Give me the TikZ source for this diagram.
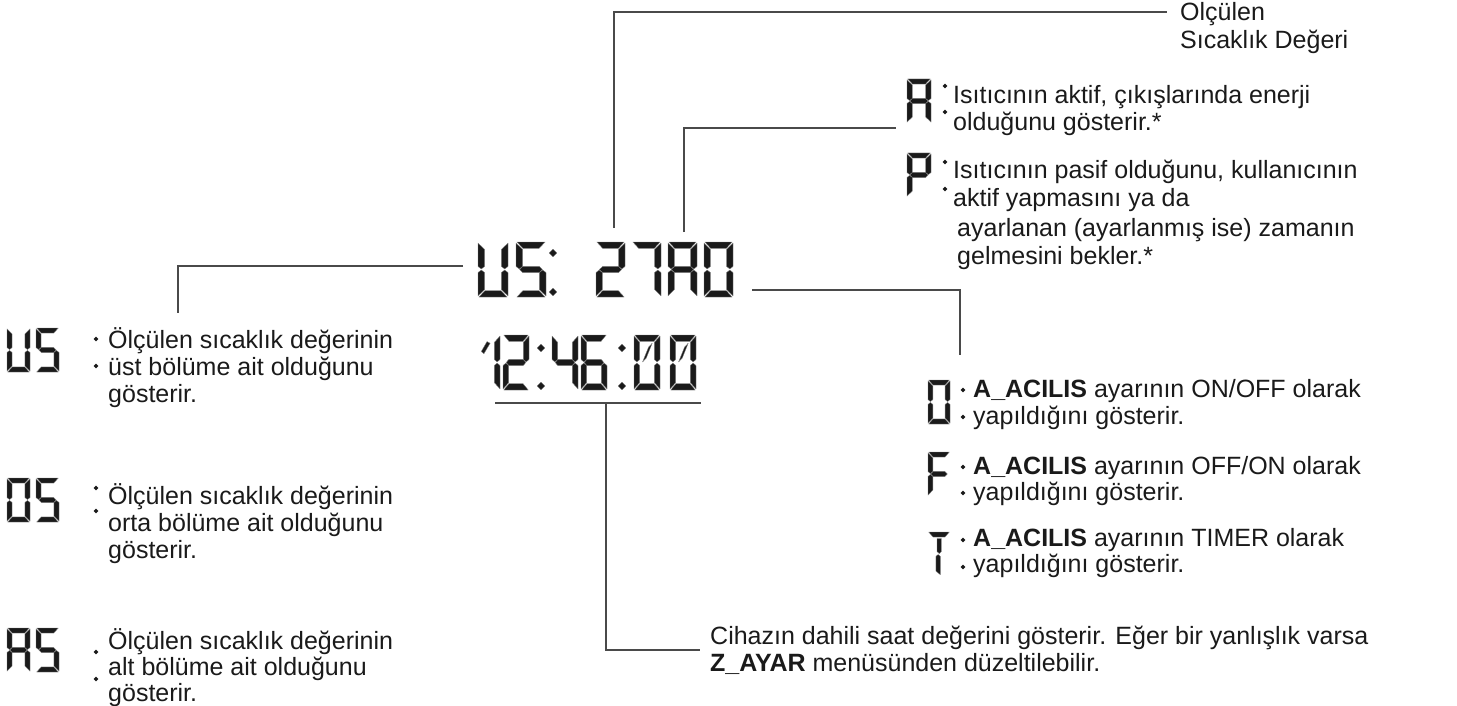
\documentclass[tikz,border=0pt]{standalone}
\usepackage{fontspec}
\setmainfont{Liberation Sans}
\definecolor{ink}{HTML}{1A1A1A}
\definecolor{wirec}{HTML}{4A4A4A}
\definecolor{segedge}{HTML}{808080}
% seven-segment pieces in a unit box (u right, v down)
\newcommand\lsega{\filldraw[lcdseg] (0.03,0) -- (0.97,0) -- (0.77,0.115) -- (0.23,0.115) -- cycle;}
\newcommand\lsegd{\filldraw[lcdseg] (0.03,1) -- (0.97,1) -- (0.77,0.885) -- (0.23,0.885) -- cycle;}
\newcommand\lsegg{\filldraw[lcdseg] (0.12,0.5) -- (0.23,0.4425) -- (0.77,0.4425) -- (0.88,0.5) -- (0.77,0.5575) -- (0.23,0.5575) -- cycle;}
\newcommand\lsegf{\filldraw[lcdseg] (0,0.02) -- (0.22,0.135) -- (0.22,0.445) -- (0.11,0.49) -- (0,0.445) -- cycle;}
\newcommand\lsege{\filldraw[lcdseg] (0,0.98) -- (0.22,0.865) -- (0.22,0.555) -- (0.11,0.51) -- (0,0.555) -- cycle;}
\newcommand\lsegb{\filldraw[lcdseg] (1,0.02) -- (0.78,0.135) -- (0.78,0.445) -- (0.89,0.49) -- (1,0.445) -- cycle;}
\newcommand\lsegc{\filldraw[lcdseg] (1,0.98) -- (0.78,0.865) -- (0.78,0.555) -- (0.89,0.51) -- (1,0.555) -- cycle;}
\newcommand\lsegz{\filldraw[lcdseg] (0.33,0.49) -- (0.47,0.42) -- (0.70,0.15) -- (0.56,0.22) -- cycle;}
\newcommand\lsegk{\filldraw[lcdseg] (0.28,0.30) -- (0.50,0.12) -- (0.62,0.15) -- (0.38,0.34) -- cycle;}
\newcommand\lsegh{\filldraw[lcdseg] (0.41,0.15) -- (0.61,0.15) -- (0.61,0.445) -- (0.51,0.49) -- (0.41,0.445) -- cycle;}
\newcommand\lsegi{\filldraw[lcdseg] (0.36,0.555) -- (0.46,0.51) -- (0.56,0.555) -- (0.56,0.97) -- (0.36,0.89) -- cycle;}
% \lcd{segments}{x}{y top}{width}{height}
\newcommand\lcd[5]{\begin{scope}[shift={(#2,#3)},x=#4pt,y=-#5pt]\foreach \s in {#1}{\csname lseg\s\endcsname}\end{scope}}
\newcommand\lcddot[2]{\filldraw[lcdseg] (#1,#2) +(-3.8,0) -- +(0,-3.8) -- +(3.8,0) -- +(0,3.8) -- cycle;}
\newcommand\bul[2]{\fill[ink] (#1,#2) +(-2.4,0) -- +(0,-2.4) -- +(2.4,0) -- +(0,2.4) -- cycle;}
\begin{document}
\begin{tikzpicture}[x=1pt,y=-1pt,
  lcdseg/.style={fill=ink,draw=segedge,line width=0.35pt,line join=round},
  wire/.style={draw=wirec,line width=1.2pt},
  txt/.style={anchor=base west,inner sep=0pt,font=\fontsize{25}{28}\selectfont,text=ink}]
\useasboundingbox (0,0) rectangle (1457,706);
% ---------- main display row: US: 27A0
\lcd{b,c,d,e,f}{478}{242}{30}{55}
\lcd{a,f,g,c,d}{516}{242}{30}{55}
\lcddot{553}{253}\lcddot{553}{292}
\lcd{a,b,g,e,d}{596}{242}{29}{55}
\lcd{a,b,c}{632}{242}{29}{55}
\lcd{a,b,c,e,f,g}{668}{242}{29}{55}
\lcd{a,b,c,d,e,f}{704}{242}{29}{55}
% ---------- time row: 12:46:00
\lcd{b,c,k}{474}{335}{26}{55}
\lcd{a,b,g,e,d}{503}{335}{26}{55}
\lcddot{541}{348}\lcddot{541}{386}
\lcd{f,g,b,c}{552}{335}{26}{55}
\lcd{a,f,g,e,c,d}{581}{335}{26}{55}
\lcddot{622}{348}\lcddot{622}{386}
\lcd{a,b,c,d,e,f,z}{634}{335}{26}{55}
\lcd{a,b,c,d,e,f,z}{670}{335}{26}{55}
% ---------- left icons
\lcd{b,c,d,e,f}{7}{328}{23}{44}\lcd{a,f,g,c,d}{36}{328}{23}{44}
\lcd{a,b,c,d,e,f}{7}{478}{23}{44}\lcd{a,f,g,c,d}{36}{478}{23}{44}
\lcd{a,b,c,e,f,g}{7}{628}{23}{44}\lcd{a,f,g,c,d}{36}{628}{23}{44}
% ---------- right icons
\lcd{a,b,c,e,f,g}{907}{79}{24}{44}
\lcd{a,b,f,g,e}{907}{153}{24}{44}
\lcd{a,b,c,d,e,f}{928}{380}{22}{44}
\lcd{a,f,g,e}{928}{452}{22}{44}
\lcd{a,h,i}{928}{532}{22}{44}
% ---------- connectors
\coordinate (c1s) at (614,228); \coordinate (c1e) at (1167,12);
\coordinate (c2s) at (684,232); \coordinate (c2e) at (896,128);
\coordinate (c3s) at (752,290); \coordinate (c3e) at (960,355);
\coordinate (c4s) at (463,266); \coordinate (c4e) at (178,313);
\coordinate (u1) at (495,403);  \coordinate (u2) at (701,403);
\coordinate (c5s) at (606,403); \coordinate (c5e) at (700,650);
\draw[wire] (c1s) |- (c1e);
\draw[wire] (c2s) |- (c2e);
\draw[wire] (c3s) -| (c3e);
\draw[wire] (c4s) -| (c4e);
\draw[wire] (u1) -- (u2);
\draw[wire] (c5s) |- (c5e);
% ---------- texts
\node[txt] (t1a) at (1180,20.5) {Olçülen};
\node[txt] (t1b) at (1180,48.5) {Sıcaklık Değeri};
\node[txt] (ta1) at (953,103.5) {Isıtıcının aktif, çıkışlarında enerji};
\node[txt] (ta2) at (953,130.5) {olduğunu gösterir.*};
\node[txt] (tp1) at (953,178.5) {Isıtıcının pasif olduğunu, kullanıcının};
\node[txt] (tp2) at (953,206.5) {aktif yapmasını ya da};
\node[txt] (tp3) at (957,236.5) {ayarlanan (ayarlanmış ise) zamanın};
\node[txt] (tp4) at (957,264.5) {gelmesini bekler.*};
\node[txt] (to1) at (973,397.5) {\textbf{A\_ACILIS} ayarının ON/OFF olarak};
\node[txt] (to2) at (973,424.5) {yapıldığını gösterir.};
\node[txt] (tf1) at (973,474.5) {\textbf{A\_ACILIS} ayarının OFF/ON olarak};
\node[txt] (tf2) at (973,500.5) {yapıldığını gösterir.};
\node[txt] (tt1) at (973,546.5) {\textbf{A\_ACILIS} ayarının TIMER olarak};
\node[txt] (tt2) at (973,572.5) {yapıldığını gösterir.};
\node[txt] (tz1) at (710,644.5) {Cihazın dahili saat değerini gösterir. Eğer bir yanlışlık varsa};
\node[txt] (tz2) at (710,671.5) {\textbf{Z\_AYAR} menüsünden düzeltilebilir.};
\node[txt] (tu1) at (108,348.5) {Ölçülen sıcaklık değerinin};
\node[txt] (tu2) at (108,375.5) {üst bölüme ait olduğunu};
\node[txt] (tu3) at (108,402.5) {gösterir.};
\node[txt] (tm1) at (108,504.5) {Ölçülen sıcaklık değerinin};
\node[txt] (tm2) at (108,531.5) {orta bölüme ait olduğunu};
\node[txt] (tm3) at (108,558.5) {gösterir.};
\node[txt] (tl1) at (108,649.5) {Ölçülen sıcaklık değerinin};
\node[txt] (tl2) at (108,675.5) {alt bölüme ait olduğunu};
\node[txt] (tl3) at (108,701) {gösterir.};
% ---------- bullets
\bul{96}{339}\bul{96}{366}
\bul{96}{488}\bul{96}{511}
\bul{96}{652}\bul{96}{679}
\bul{945}{86}\bul{945}{112}
\bul{945}{162}\bul{945}{189}
\bul{963}{390}\bul{963}{417}
\bul{963}{467}\bul{963}{493}
\bul{963}{540}\bul{963}{567}
\end{tikzpicture}
\end{document}
